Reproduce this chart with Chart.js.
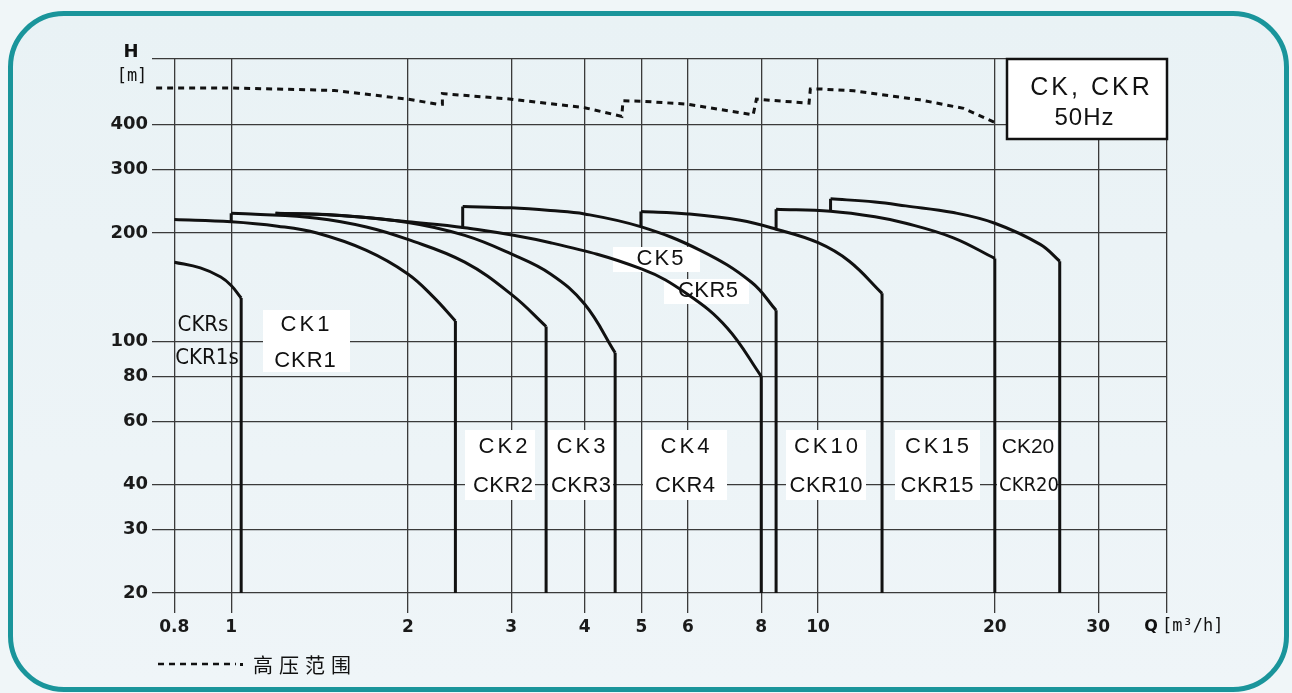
<!DOCTYPE html>
<html lang="zh">
<head>
<meta charset="utf-8">
<title>CK, CKR 50Hz</title>
<script src="https://cdn.jsdelivr.net/npm/chart.js@4.4.1/dist/chart.umd.min.js"></script>
<style>
    html, body { margin: 0; padding: 0; background: #f0f6f8; }
    #wrap { position: relative; width: 1292px; height: 693px; overflow: hidden; background: #f0f6f8; }
    #frame {
        position: absolute; left: 8px; top: 11px; width: 1281px; height: 681px;
        box-sizing: border-box; border: 5px solid #1a959b; border-radius: 56px;
        background: linear-gradient(#e9f2f5, #eff5f8);
    }
    #pumpChart { position: absolute; left: 0; top: 0; }
</style>
</head>
<body>
<div id="wrap">
    <div id="frame"></div>
    <canvas id="pumpChart" width="1292" height="693"></canvas>
</div>
<script>
// Axis ticks
const qTicks = [0.8, 1, 2, 3, 4, 5, 6, 8, 10, 20, 30, 39.3];
const qTickLabels = ['0.8', '1', '2', '3', '4', '5', '6', '8', '10', '20', '30', ''];
const hTicks = [20, 30, 40, 60, 80, 100, 200, 300, 400, 609];
const hTickLabels = ['20', '30', '40', '60', '80', '100', '200', '300', '400', ''];
const qMin = 0.733;

// High pressure range (dashed)
const qHigh = [0.745, 1.0, 1.5, 2.0, 2.25, 2.29, 2.29, 3.0, 4.0, 4.63, 4.65, 5.0, 6.0, 7.75, 7.85, 9.65, 9.7, 10.0, 11.5, 14.9, 17.7, 20.0];
const hHigh = [506, 506, 498, 471, 456, 456, 488, 471, 446, 422, 466, 465, 456, 426, 471, 459, 503, 503, 497, 469, 444, 406];

// Pump curves, Q [m3/h] and H [m]
const qCKRs = [0.8, 0.886, 0.96, 1.0, 1.04];
const hCKRs = [166, 160, 151, 143, 132];

const qCK1 = [0.8, 1.0, 1.2, 1.4, 1.7, 2.0, 2.21, 2.41];
const hCK1 = [218, 215, 209, 200, 179, 154, 133, 114];

const qCK2 = [1.0, 1.08, 1.4, 1.7, 2.0, 2.5, 3.02, 3.44];
const hCK2 = [227, 226, 220, 208, 192, 166, 134, 110];
const baseCK2 = 215;

const qCK3 = [1.19, 1.5, 2.0, 2.5, 3.0, 3.5, 4.0, 4.51];
const hCK3 = [227, 224, 214, 197, 175, 154, 127, 93];

const qCK4 = [1.19, 1.5, 2.0, 2.5, 3.5, 5.0, 6.0, 7.0, 8.0];
const hCK4 = [227, 224.5, 215, 207, 188, 159, 135, 109, 80];

const qCK5 = [2.48, 3.0, 3.5, 4.0, 5.0, 6.3, 7.7, 8.48];
const hCK5 = [237, 235, 231, 226, 208, 179, 146, 122];
const baseCK5 = 206;

const qCK10 = [4.99, 6.0, 7.37, 8.48, 10, 11.3, 12.85];
const hCK10 = [229.6, 226, 217, 205, 188, 167, 136];
const baseCK10 = 208.6;

const qCK15 = [8.48, 10.5, 12.5, 14.1, 17, 20];
const hCK15 = [233, 230, 222, 213, 194, 170];
const baseCK15 = 204;

const qCK20 = [10.5, 12.5, 14.1, 17, 20, 23.9, 25.8];
const hCK20 = [249, 244, 238, 228, 213, 186, 167];
const baseCK20 = 229;

// Text in the chart
const bottomLabels = [
    ['CK2', 'CKR2'], ['CK3', 'CKR3'], ['CK4', 'CKR4'],
    ['CK10', 'CKR10'], ['CK15', 'CKR15'], ['CK20', 'CKR20']
];
const titleLines = ['CK, CKR', '50Hz'];
const legendText = '高压范围';

const lineStyle = {
    borderColor: '#111',
    borderWidth: 3,
    pointRadius: 0,
    fill: false,
    borderCapStyle: 'butt',
    borderJoinStyle: 'miter'
};

// curve + drop to the bottom + start step
function pumpSets(q, h, base) {
    const pts = q.map((v, i) => ({ x: v, y: h[i] }));
    const last = pts[pts.length - 1];
    const sets = [
        Object.assign({ data: pts, tension: 0.4 }, lineStyle),
        Object.assign({ data: [{ x: last.x, y: last.y }, { x: last.x, y: hTicks[0] }], tension: 0 }, lineStyle)
    ];
    if (base !== undefined) {
        sets.push(Object.assign({ data: [{ x: q[0], y: base }, { x: q[0], y: h[0] }], tension: 0 }, lineStyle));
    }
    return sets;
}

const datasets = [
    {
        data: qHigh.map((v, i) => ({ x: v, y: hHigh[i] })),
        borderColor: '#111', borderWidth: 3, borderDash: [6, 5],
        pointRadius: 0, fill: false, tension: 0
    },
    ...pumpSets(qCKRs, hCKRs),
    ...pumpSets(qCK1, hCK1),
    ...pumpSets(qCK2, hCK2, baseCK2),
    ...pumpSets(qCK3, hCK3),
    ...pumpSets(qCK4, hCK4),
    ...pumpSets(qCK5, hCK5, baseCK5),
    ...pumpSets(qCK10, hCK10, baseCK10),
    ...pumpSets(qCK15, hCK15, baseCK15),
    ...pumpSets(qCK20, hCK20, baseCK20)
];

function boxText(ctx, text, cx, cy, font, spacing) {
    ctx.font = font;
    ctx.letterSpacing = spacing + 'px';
    ctx.fillText(text, cx + spacing / 2, cy);
}

// Labels, title box and legend
const notes = {
    id: 'notes',
    beforeDatasetsDraw(chart) {
        const ctx = chart.ctx;
        ctx.save();
        ctx.textAlign = 'center';
        ctx.textBaseline = 'middle';

        const sans = "'Liberation Sans', Arial, sans-serif";
        const narrow = "'Liberation Sans Narrow', 'DejaVu Sans Condensed', sans-serif";

        // white boxes under the model names
        const boxes = [
            [263, 310, 87, 62], [465, 430, 70, 70], [548, 430, 65, 70], [643, 430, 84, 70],
            [786, 430, 80, 70], [895, 430, 85, 70], [997, 430, 60, 70],
            [613, 247, 87, 25], [664, 279, 85, 25]
        ];
        ctx.fillStyle = '#ffffff';
        boxes.forEach(b => ctx.fillRect(b[0], b[1], b[2], b[3]));

        ctx.fillStyle = '#111';
        boxText(ctx, 'CK1', 305, 325, '22px ' + sans, 3);
        boxText(ctx, 'CKR1', 305, 361, '22px ' + sans, 1);
        const centers = [503, 581, 685, 826, 937];
        centers.forEach((cx, i) => {
            boxText(ctx, bottomLabels[i][0], cx, 447, '22px ' + sans, 3);
            boxText(ctx, bottomLabels[i][1], cx, 486, '22px ' + sans, 0.5);
        });
        boxText(ctx, bottomLabels[5][0], 1028, 447, '21px ' + sans, 0);
        boxText(ctx, bottomLabels[5][1], 1029, 486, '20px ' + narrow, 0);
        boxText(ctx, 'CK5', 660, 259, '22px ' + sans, 2);
        boxText(ctx, 'CKR5', 708, 291, '22px ' + sans, 0.5);
        boxText(ctx, 'CKRs', 203, 325, '22px ' + narrow, 0);
        boxText(ctx, 'CKR1s', 207, 358, '22px ' + narrow, 0);

        // title box
        ctx.fillStyle = '#ffffff';
        ctx.fillRect(1006, 58, 162, 82);
        ctx.lineWidth = 2.5;
        ctx.strokeStyle = '#111';
        ctx.strokeRect(1007, 59, 160, 80);
        ctx.fillStyle = '#111';
        boxText(ctx, titleLines[0], 1090, 88, '25px ' + sans, 3);
        boxText(ctx, titleLines[1], 1084, 118, '24px ' + sans, 1);

        // axis names
        boxText(ctx, 'H', 131, 52, 'bold 18px "DejaVu Sans"', 0);
        boxText(ctx, '[m]', 132, 77, '17px "DejaVu Sans Mono"', 0);
        boxText(ctx, 'Q', 1151, 627, 'bold 16px "DejaVu Sans"', 0);
        ctx.textAlign = 'left';
        boxText(ctx, '[m³/h]', 1162, 627, '17px "DejaVu Sans Mono"', 0);

        // legend
        ctx.beginPath();
        ctx.setLineDash([6, 5]);
        ctx.lineWidth = 2.5;
        ctx.moveTo(158, 664);
        ctx.lineTo(236, 664);
        ctx.stroke();
        ctx.setLineDash([]);
        ctx.fillRect(240, 663, 3, 3);
        boxText(ctx, legendText, 250, 665, '20px "Noto Sans CJK SC"', 6);
        ctx.restore();
    }
};

const gridColor = '#3a3a3a';

new Chart(document.getElementById('pumpChart'), {
    type: 'line',
    data: { datasets: datasets },
    options: {
        responsive: false,
        animation: false,
        layout: { padding: { left: 0, right: 125, top: 59, bottom: 0 } },
        plugins: { legend: { display: false }, tooltip: { enabled: false } },
        scales: {
            x: {
                type: 'logarithmic',
                bounds: 'data',
                min: qMin,
                max: qTicks[qTicks.length - 1],
                afterBuildTicks: s => { s.ticks = qTicks.map(v => ({ value: v })); },
                afterFit: s => { s.height = 100; },
                border: { display: false },
                grid: { color: gridColor, lineWidth: 1.3, tickLength: 20 },
                ticks: {
                    autoSkip: false, maxRotation: 0, padding: 4,
                    color: '#1a1a1a', font: { family: 'DejaVu Sans', size: 17, weight: 'bold' },
                    callback: (v, i) => qTickLabels[i]
                }
            },
            y: {
                type: 'logarithmic',
                bounds: 'data',
                min: hTicks[0],
                max: hTicks[hTicks.length - 1],
                afterBuildTicks: s => { s.ticks = hTicks.map(v => ({ value: v })); },
                afterFit: s => { s.width = 152; },
                border: { display: false },
                grid: { color: gridColor, lineWidth: 1.3, drawTicks: false },
                ticks: {
                    autoSkip: false, padding: 4,
                    color: '#1a1a1a', font: { family: 'DejaVu Sans', size: 18, weight: 'bold' },
                    callback: (v, i) => hTickLabels[i]
                }
            }
        }
    },
    plugins: [notes]
});
</script>
</body>
</html>
